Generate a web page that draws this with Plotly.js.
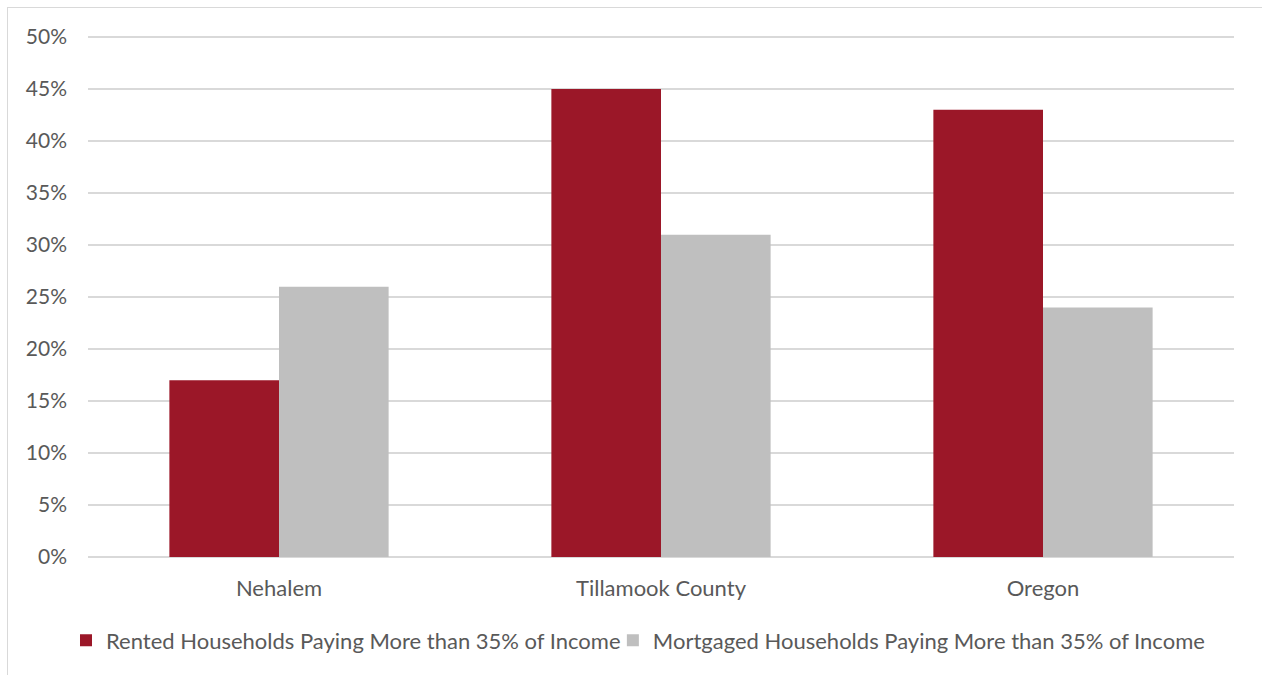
<!DOCTYPE html>
<html>
<head>
<meta charset="utf-8">
<script src="https://cdn.plot.ly/plotly-3.0.1.min.js"></script>
<style>
  html, body { margin: 0; padding: 0; background: #fff; }
  #wrap { position: relative; width: 1262px; height: 675px; overflow: hidden; }
  #chart { position: absolute; left: 0; top: 0; width: 1262px; height: 675px; }
  #frame { position: absolute; left: 7px; top: 7px; width: 1300px; height: 700px;
           border: 1.5px solid #d9d9d9; pointer-events: none; box-sizing: border-box; }
</style>
</head>
<body>
<div id="wrap">
  <div id="chart"></div>
  <div id="frame"></div>
</div>
<script>
const categories = ['Nehalem', 'Tillamook County', 'Oregon'];
const rentedName = 'Rented Households Paying More than 35% of Income';
const mortgagedName = 'Mortgaged Households Paying More than 35% of Income';
const rentedValues = [17, 45, 43];
const mortgagedValues = [26, 31, 24];
const yTickValues = [0, 5, 10, 15, 20, 25, 30, 35, 40, 45, 50];

const font = { family: 'Lato, "Open Sans", sans-serif', size: 22, color: '#595959' };
const tickFont = { family: 'Lato, "Open Sans", sans-serif', size: 21, color: '#595959' };

const data = [
  { type: 'bar', name: rentedName, x: categories, y: rentedValues, legend: 'legend',
    marker: { color: '#9b1728' }, hoverinfo: 'none' },
  { type: 'bar', name: mortgagedName, x: categories, y: mortgagedValues, legend: 'legend2',
    marker: { color: '#bfbfbf' }, hoverinfo: 'none' }
];

const legendCommon = { orientation: 'h', y: -0.16, yanchor: 'middle', xanchor: 'left',
                       font: font, itemwidth: 30, bgcolor: 'rgba(0,0,0,0)' };

const layout = {
  width: 1262, height: 675,
  margin: { l: 88, r: 28, t: 35, b: 118, autoexpand: false },
  paper_bgcolor: '#fff', plot_bgcolor: '#fff',
  font: font,
  barmode: 'group', bargap: 0.426, bargroupgap: 0,
  showlegend: true,
  legend: Object.assign({}, legendCommon, { x: -0.0192 }),
  legend2: Object.assign({}, legendCommon, { x: 0.458 }),
  xaxis: { type: 'category', showgrid: false, showline: false, ticks: '',
           tickfont: font, ticklabelstandoff: 16, zeroline: false },
  yaxis: { range: [0, 50.2], tickvals: yTickValues, ticktext: yTickValues.map(v => v + '%'),
           showgrid: true, gridcolor: '#d9d9d9', gridwidth: 1.5,
           zeroline: true, zerolinecolor: '#d9d9d9', zerolinewidth: 1.5,
           showline: false, ticks: '', tickfont: tickFont, ticklabelstandoff: 20 }
};

Plotly.newPlot('chart', data, layout, { staticPlot: true, displayModeBar: false });
</script>
</body>
</html>
